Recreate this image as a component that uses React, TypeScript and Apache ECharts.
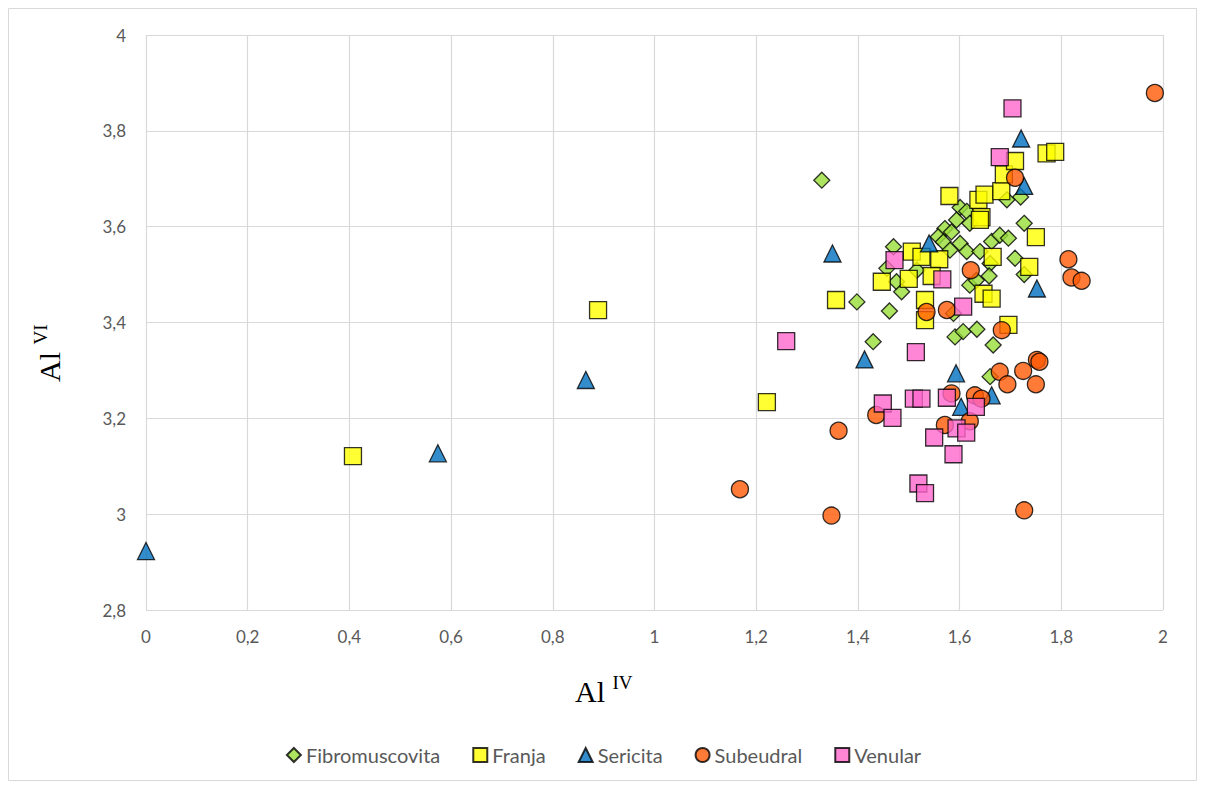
import React, { useEffect, useRef } from "react";
import * as echarts from "echarts";

// Al(IV) vs Al(VI) per mica type: [AlIV, AlVI]
const fibromuscovita: number[][] = [
  [1.329, 3.697], [1.72, 3.662], [1.693, 3.656], [1.601, 3.64], [1.614, 3.632],
  [1.62, 3.607], [1.594, 3.614], [1.571, 3.596], [1.584, 3.589], [1.558, 3.579],
  [1.601, 3.565], [1.568, 3.568], [1.581, 3.551], [1.614, 3.548], [1.64, 3.548],
  [1.727, 3.607], [1.663, 3.569], [1.679, 3.582], [1.696, 3.576], [1.709, 3.534],
  [1.66, 3.523], [1.658, 3.497], [1.727, 3.5], [1.47, 3.558], [1.457, 3.513],
  [1.476, 3.485], [1.516, 3.509], [1.486, 3.464], [1.62, 3.478], [1.633, 3.488],
  [1.398, 3.443], [1.462, 3.424], [1.588, 3.419], [1.591, 3.37], [1.607, 3.381],
  [1.634, 3.386], [1.666, 3.353], [1.43, 3.36], [1.66, 3.287],
];
const franja: number[][] = [
  [0.407, 3.121], [0.889, 3.426], [1.221, 3.234], [1.357, 3.447], [1.447, 3.485],
  [1.5, 3.491], [1.506, 3.548], [1.525, 3.537], [1.56, 3.532], [1.545, 3.497],
  [1.532, 3.447], [1.532, 3.405], [1.58, 3.664], [1.637, 3.656], [1.649, 3.667],
  [1.643, 3.62], [1.64, 3.614], [1.682, 3.674], [1.687, 3.709], [1.709, 3.737],
  [1.771, 3.753], [1.788, 3.756], [1.75, 3.578], [1.665, 3.537], [1.737, 3.516],
  [1.647, 3.46], [1.663, 3.45], [1.696, 3.395],
];
const sericita: number[][] = [
  [0, 2.923], [0.574, 3.127], [0.865, 3.28], [1.35, 3.544], [1.413, 3.323],
  [1.54, 3.565], [1.593, 3.294], [1.603, 3.224], [1.663, 3.248], [1.721, 3.784],
  [1.727, 3.685], [1.752, 3.471],
];
const subeudral: number[][] = [
  [1.168, 3.052], [1.348, 2.997], [1.362, 3.174], [1.436, 3.207], [1.535, 3.422],
  [1.575, 3.426], [1.622, 3.509], [1.709, 3.702], [1.814, 3.532], [1.82, 3.494],
  [1.84, 3.487], [1.683, 3.384], [1.679, 3.297], [1.725, 3.299], [1.752, 3.322],
  [1.757, 3.318], [1.694, 3.271], [1.75, 3.271], [1.584, 3.252], [1.63, 3.248],
  [1.643, 3.241], [1.571, 3.186], [1.62, 3.194], [1.727, 3.008], [1.984, 3.879],
];
const venular: number[][] = [
  [1.259, 3.361], [1.449, 3.231], [1.468, 3.201], [1.472, 3.53], [1.514, 3.338],
  [1.51, 3.241], [1.525, 3.241], [1.519, 3.064], [1.532, 3.044], [1.55, 3.16],
  [1.566, 3.49], [1.575, 3.243], [1.588, 3.125], [1.594, 3.179], [1.607, 3.433],
  [1.613, 3.17], [1.632, 3.224], [1.679, 3.745], [1.704, 3.847],
];

const seriesNames = ["Fibromuscovita", "Franja", "Sericita", "Subeudral", "Venular"];

const fmt = (v: number) => String(Math.round(v * 10) / 10).replace(".", ",");

const titleRich = {
  a: { fontFamily: "'Liberation Serif', serif", fontSize: 30, fill: "#000", verticalAlign: "bottom" },
  b: { fontFamily: "'Liberation Serif', serif", fontSize: 19, fill: "#000", verticalAlign: "top", padding: [0, 0, 14, 0] },
};

export default function App() {
  const ref = useRef<HTMLDivElement>(null);

  useEffect(() => {
    if (!ref.current) return;
    const chart = echarts.init(ref.current, null, { renderer: "svg" });
    const border = { borderColor: "#000", borderWidth: 1.3 };
    const mk = (name: string, data: number[][], symbol: string, size: number, color: string, z: number) => ({
      name,
      type: "scatter",
      data,
      symbol,
      symbolSize: size,
      z,
      itemStyle: { color, ...border },
    });
    chart.setOption({
      animation: false,
      backgroundColor: "#fff",
      textStyle: { fontFamily: "Lato, 'Noto Sans', sans-serif" },
      grid: { left: 146, right: 44, top: 35, bottom: 180, containLabel: false },
      xAxis: {
        type: "value",
        min: 0,
        max: 2,
        interval: 0.2,
        axisLine: { show: false },
        axisTick: { show: false },
        splitLine: { show: true, lineStyle: { color: "#d9d9d9", width: 1.2 } },
        axisLabel: { color: "#595959", fontSize: 17, margin: 18, formatter: fmt },
      },
      yAxis: {
        type: "value",
        min: 2.8,
        max: 4,
        interval: 0.2,
        axisLine: { show: false },
        axisTick: { show: false },
        splitLine: { show: true, lineStyle: { color: "#d9d9d9", width: 1.2 } },
        axisLabel: { color: "#595959", fontSize: 17, margin: 20, formatter: fmt },
      },
      legend: {
        data: seriesNames,
        bottom: 20,
        left: "center",
        itemGap: 32,
        itemWidth: 14,
        itemHeight: 14,
        textStyle: { color: "#595959", fontSize: 20 },
      },
      graphic: [
        {
          type: "rect",
          shape: { x: 8.5, y: 8.5, width: 1188, height: 772 },
          style: { fill: "none", stroke: "#d9d9d9", lineWidth: 1 },
          silent: true,
        },
        {
          type: "text",
          x: 575,
          y: 706,
          style: { text: "{a|Al }{b|IV}", textVerticalAlign: "bottom", rich: titleRich },
        },
        {
          type: "text",
          x: 64,
          y: 382,
          rotation: Math.PI / 2,
          style: { text: "{a|Al }{b|VI}", textVerticalAlign: "bottom", rich: titleRich },
        },
      ],
      series: [
        mk("Fibromuscovita", fibromuscovita, "diamond", 16, "#98df3a", 2),
        mk("Franja", franja, "rect", 17, "#ffff00", 3),
        mk("Sericita", sericita, "triangle", 17, "#0070c0", 4),
        mk("Subeudral", subeudral, "circle", 17, "#ff5a05", 5),
        mk("Venular", venular, "rect", 17, "#ff66cc", 6),
      ],
    });
    return () => chart.dispose();
  }, []);

  return (
    <div
      ref={ref}
      style={{ position: "fixed", left: 0, top: 0, width: 1207, height: 790 }}
    />
  );
}
